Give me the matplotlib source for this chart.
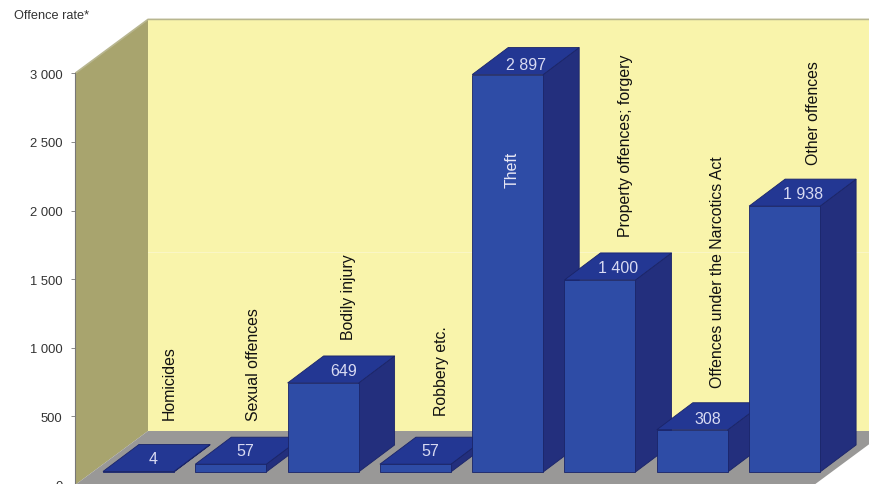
import matplotlib
matplotlib.use('Agg')
import matplotlib.pyplot as plt
import numpy as np

plt.rcParams['font.family'] = ['Liberation Sans', 'DejaVu Sans']

categories = ['Homicides', 'Sexual offences', 'Bodily injury', 'Robbery etc.', 'Theft',
              'Property offences; forgery', 'Offences under the Narcotics Act', 'Other offences']
values = [4, 57, 649, 57, 2897, 1400, 308, 1938]
value_labels = ['4', '57', '649', '57', '2 897', '1 400', '308', '1 938']
yticks = [0, 500, 1000, 1500, 2000, 2500, 3000]
ytick_labels = ['0', '500', '1 000', '1 500', '2 000', '2 500', '3 000']

# where the rotated names sit, bar relative x and value-scale y of the text bottom
name_dx = [0.33, 0.25, 0.28, 0.28, 0.05, 0.28, 0.27, 0.31]
name_y = [480, 475, 1065, 510, 2170, 1815, 715, 2340]
# small nudges of the value labels, pixels
value_nudge_x = [-3, -4, 3, -3, 0, 0, -2, 0]
value_nudge_y = [-1, 0, -1, 0, -3, -1, -2, -1]

W, H = 869, 485
px_x = 92.3          # pixels per category
px_y = 0.1372        # pixels per unit of rate
zero_px = 486
left_px = 75

bar_w = 71 / px_x
dx = 36 / px_x       # depth of a bar
dy = 27 / px_y
wall_dx = 73 / px_x  # depth of the floor
wall_dy = 54 / px_y
base = 13 / px_y     # bars stand a little in front of the axis

front = '#2e4ca6'
top = '#233793'
side = '#232f7d'
edge = '#1a2468'

fig = plt.figure(figsize=(W / 100, H / 100), dpi=100)
ax = fig.add_axes([left_px / W, (H - zero_px) / H, (W - left_px) / W, zero_px / H])
x0 = (left_px - 138.5) / px_x
x1 = (W - 138.5) / px_x
ax.set_xlim(x0, x1)
ax.set_ylim(0, zero_px / px_y)
ax.patch.set_visible(False)

# walls and floor
ax.fill([x0 + wall_dx, x1, x1, x0 + wall_dx], [wall_dy, wall_dy, 3000 + wall_dy, 3000 + wall_dy],
        color='#f9f4ab', lw=0, zorder=1)
ax.fill([x0, x0 + wall_dx, x0 + wall_dx, x0], [0, wall_dy, 3000 + wall_dy, 3000],
        color='#a8a46e', lw=0, zorder=1)
floor_right = (814 - 138.5) / px_x
ax.fill([x0, x0 + wall_dx, floor_right + wall_dx, floor_right], [0, wall_dy, wall_dy, 0],
        color='#999897', lw=0, zorder=1)
ax.plot([x0, x0 + wall_dx, x1], [3000, 3000 + wall_dy, 3000 + wall_dy], color='#b8b690', lw=1.2, zorder=2)
ax.plot([x0 + wall_dx, x1], [1700, 1700], color='#fbf7c6', lw=0.7, zorder=2)

# bars, back faces first so the neighbours overlap correctly
pos = np.arange(len(values))
for i, v in zip(pos, values):
    l = i - bar_w / 2
    r = i + bar_w / 2
    b = base
    t = base + v
    ax.fill([r, r + dx, r + dx, r], [b, b + dy, t + dy, t], facecolor=side, edgecolor=edge, lw=0.6, zorder=3 + i)
    ax.fill([l, r, r + dx, l + dx], [t, t, t + dy, t + dy], facecolor=top, edgecolor=edge, lw=0.6, zorder=3 + i)
    ax.bar(i, v, bottom=base, width=bar_w, color=front, edgecolor=edge, lw=0.6, zorder=3 + i)
    ax.annotate(value_labels[i], (i + dx / 2, t + dy / 2),
                xytext=(value_nudge_x[i] * 0.72, value_nudge_y[i] * 0.72), textcoords='offset points',
                color='#d8daf2', fontsize=11.5, ha='center', va='center', zorder=20)

for i, name in enumerate(categories):
    ax.text(i + name_dx[i], name_y[i], name, rotation=90, fontsize=11.4,
            color='#e8e8f5' if name == 'Theft' else '#111111',
            ha='center', va='bottom', zorder=20)

for s in ['top', 'right', 'bottom']:
    ax.spines[s].set_visible(False)
ax.spines['left'].set_bounds(0, 3000)
ax.spines['left'].set_color('#777777')
ax.spines['left'].set_zorder(5)
ax.set_xticks([])
ax.set_yticks(yticks)
ax.set_yticklabels(ytick_labels, fontsize=9.4, color='#333333')
ax.tick_params(axis='y', length=3, width=0.6, color='#777777', pad=6)

fig.text(14 / W, 1 - 16 / H, 'Offence rate*', fontsize=9.2, color='#333333', va='center')
fig.savefig('out.png', dpi=100)
